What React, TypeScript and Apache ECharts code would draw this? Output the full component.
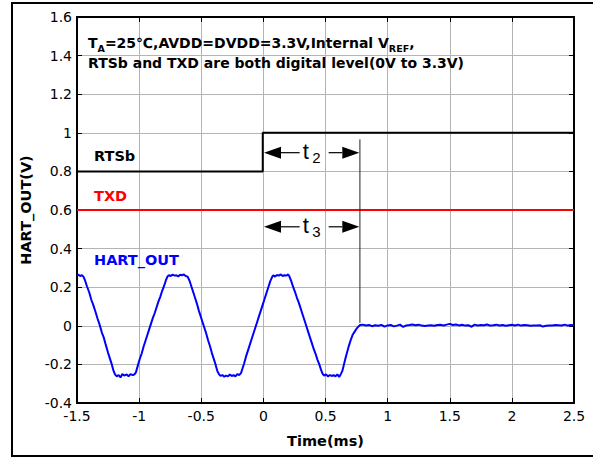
import React, { useEffect, useRef } from "react";
import * as echarts from "echarts";

// ---- data ----
const xTicks = { min: -1.5, max: 2.5, interval: 0.5 };
const yTicks = { min: -0.4, max: 1.6, interval: 0.2 };

const rtsbTime = [-1.5, -0.005, -0.005, 2.5];
const rtsbValue = [0.8, 0.8, 1.0, 1.0];

const txdTime = [-1.5, 2.5];
const txdValue = [0.6, 0.6];

const hartTime = [
  -1.5, -1.49, -1.475, -1.46, -1.449,
  -1.435, -1.42, -1.4, -1.385, -1.37, -1.35, -1.335, -1.32, -1.3, -1.285, -1.27, -1.25, -1.235, -1.22, -1.205, -1.194,
  -1.18, -1.165, -1.15, -1.135, -1.12, -1.1, -1.085, -1.07, -1.05, -1.035,
  -1.025, -1.01, -0.995, -0.98, -0.965, -0.95, -0.935, -0.92, -0.905, -0.89, -0.875, -0.86, -0.845, -0.83, -0.815, -0.8, -0.785, -0.772,
  -0.76, -0.745, -0.73, -0.715, -0.7, -0.685, -0.67, -0.655, -0.64, -0.625, -0.61,
  -0.595, -0.58, -0.565, -0.55, -0.535, -0.52, -0.505, -0.49, -0.475, -0.46, -0.445, -0.43, -0.415, -0.4, -0.385, -0.37, -0.358,
  -0.345, -0.33, -0.315, -0.3, -0.285, -0.27, -0.255, -0.24, -0.225, -0.21, -0.195, -0.18,
  -0.17, -0.155, -0.14, -0.125, -0.11, -0.095, -0.08, -0.065, -0.05, -0.035, -0.02, -0.005, 0.01, 0.025, 0.04, 0.055, 0.07,
  0.08, 0.095, 0.11, 0.125, 0.14, 0.155, 0.17, 0.185, 0.2, 0.21,
  0.225, 0.24, 0.255, 0.27, 0.285, 0.3, 0.315, 0.33, 0.345, 0.36, 0.375, 0.39, 0.405, 0.42, 0.435, 0.45, 0.465, 0.478,
  0.49, 0.505, 0.52, 0.535, 0.55, 0.565, 0.58, 0.595, 0.61, 0.625,
  0.635, 0.645, 0.66, 0.675, 0.69, 0.705, 0.72, 0.735, 0.75, 0.765, 0.778,
  0.8, 0.825, 0.85, 0.875, 0.9, 0.925, 0.95, 0.975, 1.0, 1.025, 1.05, 1.075, 1.1, 1.125, 1.15, 1.175, 1.2, 1.225, 1.25, 1.275,
  1.3, 1.325, 1.35, 1.375, 1.4, 1.425, 1.45, 1.475, 1.5, 1.525, 1.55, 1.575, 1.6, 1.625, 1.65, 1.675, 1.7, 1.725, 1.75, 1.775,
  1.8, 1.825, 1.85, 1.875, 1.9, 1.925, 1.95, 1.975, 2.0, 2.025, 2.05, 2.075, 2.1, 2.125, 2.15, 2.175, 2.2, 2.225, 2.25, 2.275,
  2.3, 2.325, 2.35, 2.375, 2.4, 2.425, 2.45, 2.475, 2.5,
];
const hartValue = [
  0.262, 0.265, 0.258, 0.262, 0.256,
  0.235, 0.205, 0.17, 0.135, 0.11, 0.07, 0.038, 0.01, -0.035, -0.06, -0.095, -0.14, -0.17, -0.2, -0.235, -0.252,
  -0.262, -0.255, -0.268, -0.25, -0.258, -0.252, -0.262, -0.25, -0.256, -0.25,
  -0.24, -0.205, -0.172, -0.145, -0.11, -0.08, -0.05, -0.02, 0.01, 0.04, 0.065, 0.095, 0.125, 0.15, 0.18, 0.205, 0.235, 0.255,
  0.262, 0.258, 0.265, 0.26, 0.262, 0.256, 0.264, 0.262, 0.266, 0.258, 0.255,
  0.235, 0.205, 0.175, 0.145, 0.115, 0.08, 0.05, 0.02, -0.01, -0.04, -0.075, -0.105, -0.14, -0.17, -0.2, -0.235, -0.25,
  -0.26, -0.255, -0.264, -0.258, -0.262, -0.252, -0.26, -0.256, -0.262, -0.25, -0.255, -0.245,
  -0.225, -0.195, -0.16, -0.13, -0.1, -0.07, -0.04, -0.01, 0.02, 0.05, 0.08, 0.11, 0.14, 0.17, 0.2, 0.23, 0.252,
  0.262, 0.255, 0.263, 0.26, 0.266, 0.258, 0.262, 0.26, 0.266, 0.255,
  0.23, 0.2, 0.175, 0.145, 0.12, 0.09, 0.06, 0.03, 0.0, -0.03, -0.06, -0.09, -0.12, -0.145, -0.175, -0.2, -0.23, -0.25,
  -0.258, -0.252, -0.262, -0.255, -0.26, -0.256, -0.262, -0.252, -0.265, -0.248,
  -0.235, -0.21, -0.17, -0.135, -0.1, -0.07, -0.045, -0.03, -0.015, -0.004, 0.004,
  0.006, 0.002, 0.004, -0.002, 0.003, 0.0, 0.005, -0.004, 0.002, 0.004, -0.003, 0.001, 0.006, -0.006, 0.002, 0.004, 0.007, 0.003, 0.006, 0.001,
  -0.001, 0.002, 0.003, 0.0, 0.004, 0.005, 0.002, 0.006, 0.01, 0.004, 0.007, 0.002, 0.005, 0.001, 0.003, -0.005, 0.006, 0.002, 0.004, 0.003,
  0.007, 0.001, 0.003, 0.006, 0.002, 0.004, 0.0, 0.003, 0.005, 0.002, 0.006, 0.001, 0.004, 0.003, 0.0, 0.002, 0.001, 0.003, -0.004, 0.0,
  0.002, 0.001, 0.004, 0.003, 0.002, 0.006, 0.001, 0.004, 0.003,
];

// vertical marker (t ≈ 0.777 ms) from RTSb high level down to HART_OUT settle
const markerTime = [0.777, 0.777];
const markerValue = [0.966, 0.015];

// double arrows t2 / t3
const arrowStart = [0.005, 0.005];
const arrowEnd = [0.772, 0.772];
const arrowLevel = [0.897, 0.513];
const arrowSub = ["2", "3"];

const FONT = "DejaVu Sans";

function zip(a: number[], b: number[]) {
  return a.map((v, i) => [v, b[i]]);
}

export default function App() {
  const ref = useRef<HTMLDivElement>(null);
  useEffect(() => {
    if (!ref.current) return;
    const chart = echarts.init(ref.current, null, { renderer: "svg" });
    const axisCommon = {
      axisLine: { show: true, onZero: false, lineStyle: { color: "#000", width: 2 } },
      axisTick: { show: true, inside: true, length: 5, lineStyle: { color: "#000", width: 1 } },
    };
    chart.setOption({
      animation: false,
      backgroundColor: "#fff",
      grid: { left: 77, top: 17, width: 497, height: 386, containLabel: false },
      xAxis: [
        {
          type: "value",
          ...xTicks,
          ...axisCommon,
          name: "Time(ms)",
          nameLocation: "middle",
          nameGap: 30,
          nameTextStyle: { fontFamily: FONT, fontWeight: "bold", fontSize: 14.5, color: "#000" },
          axisLabel: { fontFamily: FONT, fontSize: 14, color: "#000", margin: 6 },
          splitLine: { show: true, lineStyle: { color: "#b4b4b4", width: 1 } },
        },
        {
          type: "value",
          position: "top",
          ...xTicks,
          ...axisCommon,
          axisLabel: { show: false },
          splitLine: { show: false },
        },
      ],
      yAxis: [
        {
          type: "value",
          ...yTicks,
          ...axisCommon,
          name: "HART_OUT(V)",
          nameLocation: "middle",
          nameGap: 36,
          nameRotate: 90,
          nameTextStyle: { fontFamily: FONT, fontWeight: "bold", fontSize: 14.5, color: "#000" },
          axisLabel: { fontFamily: FONT, fontSize: 14, color: "#000", margin: 5 },
          splitLine: { show: true, lineStyle: { color: "#b4b4b4", width: 1 } },
        },
        {
          type: "value",
          position: "right",
          ...yTicks,
          ...axisCommon,
          axisLabel: { show: false },
          splitLine: { show: false },
        },
      ],
      series: [
        {
          name: "TXD",
          type: "line",
          data: zip(txdTime, txdValue),
          showSymbol: false,
          lineStyle: { color: "#ff0000", width: 2 },
          z: 3,
        },
        {
          name: "RTSb",
          type: "line",
          data: zip(rtsbTime, rtsbValue),
          showSymbol: false,
          lineStyle: { color: "#000", width: 2 },
          z: 3,
        },
        {
          name: "marker",
          type: "line",
          data: zip(markerTime, markerValue),
          showSymbol: false,
          lineStyle: { color: "#222", width: 1 },
          z: 3,
        },
        {
          name: "HART_OUT",
          type: "line",
          data: zip(hartTime, hartValue),
          showSymbol: false,
          lineStyle: { color: "#0000ff", width: 2 },
          z: 4,
        },
      ],
    });

    const graphics: any[] = [];
    // outer frame
    graphics.push({
      type: "rect",
      shape: { x: 12, y: 3, width: 600, height: 453 },
      style: { fill: "none", stroke: "#000", lineWidth: 2 },
      silent: true,
    });
    // series labels
    const lab = (text: string, x: number, y: number, color: string) => ({
      type: "text",
      x,
      y,
      style: { text, fill: color, font: `bold 14.5px "${FONT}"`, textVerticalAlign: "middle" },
    });
    graphics.push(lab("RTSb", 94, 156, "#000"));
    graphics.push(lab("TXD", 94, 196, "#ff0000"));
    graphics.push(lab("HART_OUT", 94, 260, "#0000ff"));
    // condition annotation
    graphics.push({
      type: "text",
      x: 88,
      y: 33,
      style: {
        text: "T{sub|A}=25℃,AVDD=DVDD=3.3V,Internal V{sub|REF},\nRTSb and TXD are both digital level(0V to 3.3V)",
        font: `bold 14px "${FONT}"`,
        fill: "#000",
        lineHeight: 20,
        rich: {
          sub: { font: `bold 9.5px "${FONT}"`, fill: "#000", verticalAlign: "bottom", lineHeight: 14 },
        },
      },
    });
    // arrows
    for (let i = 0; i < arrowStart.length; i++) {
      const p1 = chart.convertToPixel({ xAxisIndex: 0, yAxisIndex: 0 }, [arrowStart[i], arrowLevel[i]]) as number[];
      const p2 = chart.convertToPixel({ xAxisIndex: 0, yAxisIndex: 0 }, [arrowEnd[i], arrowLevel[i]]) as number[];
      const y = p1[1];
      const x1 = p1[0];
      const x2 = p2[0];
      const mid = (x1 + x2) / 2;
      const hl = 17;
      const hw = 6;
      graphics.push({
        type: "polygon",
        shape: { points: [[x1, y], [x1 + hl, y - hw], [x1 + hl, y + hw]] },
        style: { fill: "#000" },
        z: 10,
      });
      graphics.push({
        type: "polygon",
        shape: { points: [[x2, y], [x2 - hl, y - hw], [x2 - hl, y + hw]] },
        style: { fill: "#000" },
        z: 10,
      });
      graphics.push({
        type: "line",
        shape: { x1: x1 + hl, y1: y, x2: mid - 12, y2: y },
        style: { stroke: "#000", lineWidth: 1.2 },
        z: 10,
      });
      graphics.push({
        type: "line",
        shape: { x1: mid + 17, y1: y, x2: x2 - hl, y2: y },
        style: { stroke: "#000", lineWidth: 1.2 },
        z: 10,
      });
      graphics.push({
        type: "text",
        x: mid - 9,
        y: y - 1,
        style: { text: "t", font: `22px "Liberation Sans"`, fill: "#000", textVerticalAlign: "middle" },
        z: 10,
      });
      graphics.push({
        type: "text",
        x: mid + 0.5,
        y: y + 5,
        style: { text: arrowSub[i], font: `15px "Liberation Sans"`, fill: "#000", textVerticalAlign: "middle" },
        z: 10,
      });
    }
    chart.setOption({ graphic: graphics });
    return () => chart.dispose();
  }, []);
  return (
    <div
      ref={ref}
      style={{ position: "fixed", left: 0, top: 0, width: 593, height: 457, background: "#fff" }}
    />
  );
}
